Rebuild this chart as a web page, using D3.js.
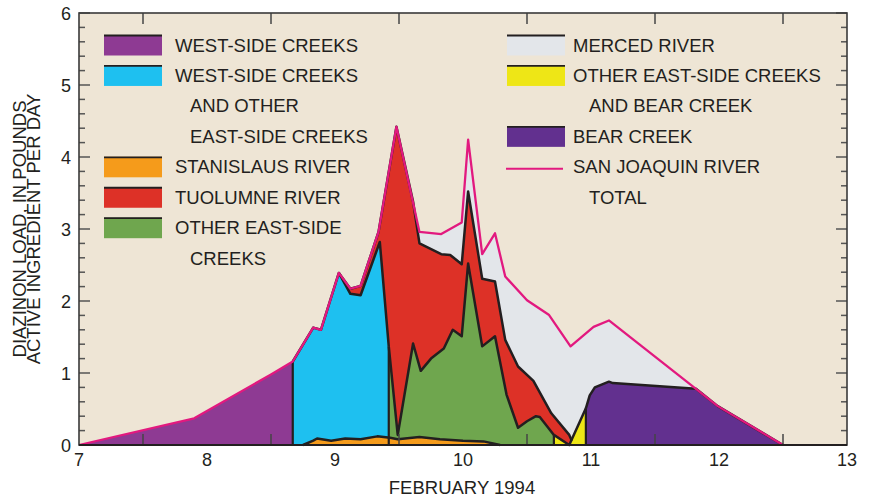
<!DOCTYPE html>
<html>
<head>
<meta charset="utf-8">
<script src="https://cdn.jsdelivr.net/npm/d3@7"></script>
<style>
body { margin: 0; background: #fff; }
text { font-family: "Liberation Sans", Arial, sans-serif; fill: #231f20; }
</style>
</head>
<body>
<div id="chart"></div>
<script>
// values: [day of February 1994, load in pounds per day]
var xTicks = [7, 8, 9, 10, 11, 12, 13];
var yTicks = [0, 1, 2, 3, 4, 5, 6];

var sanJoaquinTotal = [[7.00,0.00],[7.90,0.37],[8.50,0.98],[8.67,1.16],[8.83,1.63],[8.89,1.60],[9.03,2.39],
  [9.12,2.17],[9.20,2.21],[9.34,2.96],[9.48,4.42],[9.66,2.96],[9.83,2.93],[9.99,3.09],[10.04,4.24],[10.15,2.65],
  [10.25,2.94],[10.33,2.34],[10.50,2.01],[10.67,1.81],[10.84,1.37],[11.02,1.64],[11.14,1.73],[11.82,0.78],
  [11.99,0.54],[12.50,0.00]];
var westSideCreeks = [[7.00,0.00],[7.90,0.37],[8.50,0.98],[8.67,1.16]];
var westAndEastCreeks = [[8.67,1.16],[8.83,1.63],[8.89,1.60],[9.03,2.39],[9.12,2.10],[9.20,2.08],[9.35,2.82],[9.42,1.37]];
var otherEastCreeks = [[9.42,1.37],[9.49,0.14],[9.61,1.41],[9.67,1.03],[9.75,1.20],[9.85,1.34],[9.92,1.60],[9.99,1.51],
  [10.04,2.52],[10.15,1.37],[10.25,1.51],[10.34,0.70],[10.43,0.24],[10.50,0.33],[10.57,0.40],[10.60,0.39],[10.71,0.14]];
var tuolumne = [[9.03,2.39],[9.12,2.17],[9.20,2.21],[9.34,2.96],[9.48,4.42],[9.61,3.38],[9.66,2.80],[9.83,2.65],
  [9.90,2.64],[9.99,2.51],[10.04,3.52],[10.15,2.31],[10.25,2.27],[10.33,1.46],[10.43,1.09],[10.55,0.89],[10.69,0.44],
  [10.83,0.14],[10.85,0.06]];
var otherEastAndBear = [[10.71,0.14],[10.83,0.00],[10.96,0.51]];
var bearCreek = [[10.96,0.51],[10.99,0.69],[11.03,0.80],[11.14,0.88],[11.17,0.86],[11.82,0.78],[11.99,0.54],[12.50,0.00]];
var stanislaus = [[8.75,0.00],[8.83,0.06],[8.86,0.09],[8.97,0.06],[9.08,0.09],[9.20,0.08],[9.33,0.12],[9.43,0.10],
  [9.49,0.08],[9.66,0.11],[9.82,0.08],[10.00,0.06],[10.16,0.05],[10.29,0.00]];
var merced = sanJoaquinTotal.filter(function(d) { return d[0] >= 9.48 && d[0] <= 11.82; });

var w = 872, h = 497;
var svg = d3.select('#chart').append('svg')
    .attr('width', w)
    .attr('height', h);

var x = d3.scaleLinear().domain([7, 13]).range([79, 847]);
var y = d3.scaleLinear().domain([0, 6]).range([445, 13]);

svg.append('rect')
    .attr('x', x(7)).attr('y', y(6))
    .attr('width', x(13) - x(7)).attr('height', y(0) - y(6))
    .attr('fill', '#eee5d5');

var area = d3.area()
    .x(function(d) { return x(d[0]); })
    .y0(y(0))
    .y1(function(d) { return y(d[1]); });
var line = d3.line()
    .x(function(d) { return x(d[0]); })
    .y(function(d) { return y(d[1]); });

// painted back to front
var layers = [
  { data: westSideCreeks, fill: '#8e3a93', edge: false },
  { data: merced, fill: '#e3e6ea', edge: false },
  { data: bearCreek, fill: '#62308f', edge: true },
  { data: tuolumne, fill: '#dd3127', edge: true },
  { data: otherEastAndBear, fill: '#eee616', edge: true },
  { data: otherEastCreeks, fill: '#6fa64e', edge: true },
  { data: westAndEastCreeks, fill: '#1ec0f0', edge: true },
  { data: stanislaus, fill: '#f59b1b', edge: true }
];

layers.forEach(function(l) {
  svg.append('path')
      .attr('d', area(l.data))
      .attr('fill', l.fill);
});

layers.forEach(function(l) {
  if (!l.edge) { return; }
  svg.append('path')
      .attr('d', line(l.data))
      .attr('fill', 'none')
      .attr('stroke', '#231f20')
      .attr('stroke-width', 2.5)
      .attr('stroke-linejoin', 'round');
});

// separators where one layer hands over to the next
[westAndEastCreeks, otherEastCreeks, otherEastAndBear, bearCreek].forEach(function(s) {
  svg.append('line')
      .attr('x1', x(s[0][0])).attr('x2', x(s[0][0]))
      .attr('y1', y(0)).attr('y2', y(s[0][1]))
      .attr('stroke', '#231f20')
      .attr('stroke-width', 2.2);
});

svg.append('path')
    .attr('d', line(sanJoaquinTotal))
    .attr('fill', 'none')
    .attr('stroke', '#e2197f')
    .attr('stroke-width', 2.3)
    .attr('stroke-linejoin', 'round');

// ticks
var minor = d3.range(0, 6.01, 0.2);
minor.forEach(function(v) {
  var major = Math.abs(v - Math.round(v)) < 0.01;
  var len = major ? 11 : 6;
  svg.append('line')
      .attr('x1', x(7)).attr('x2', x(7) + len)
      .attr('y1', y(v)).attr('y2', y(v))
      .attr('stroke', '#555').attr('stroke-width', 1.5);
  svg.append('line')
      .attr('x1', x(13)).attr('x2', x(13) - len)
      .attr('y1', y(v)).attr('y2', y(v))
      .attr('stroke', '#555').attr('stroke-width', 1.5);
});
[7.5, 8.5, 9.5, 10.5, 11.5, 12.5].forEach(function(v) {
  svg.append('line')
      .attr('x1', x(v)).attr('x2', x(v))
      .attr('y1', y(0)).attr('y2', y(0) - 11)
      .attr('stroke', '#444').attr('stroke-width', 1.5);
  svg.append('line')
      .attr('x1', x(v)).attr('x2', x(v))
      .attr('y1', y(6)).attr('y2', y(6) + 11)
      .attr('stroke', '#444').attr('stroke-width', 1.5);
});

svg.append('rect')
    .attr('x', x(7)).attr('y', y(6))
    .attr('width', x(13) - x(7)).attr('height', y(0) - y(6))
    .attr('fill', 'none')
    .attr('stroke', '#3a3a3a')
    .attr('stroke-width', 1.6);
svg.append('line')
    .attr('x1', x(7)).attr('x2', x(13))
    .attr('y1', y(0)).attr('y2', y(0))
    .attr('stroke', '#231f20').attr('stroke-width', 2.2);

svg.selectAll('.ylab')
    .data(yTicks)
    .enter()
    .append('text')
    .attr('x', 71)
    .attr('y', function(d) { return y(d) + 6.5; })
    .attr('text-anchor', 'end')
    .style('font-size', '18px')
    .text(function(d) { return d; });

svg.selectAll('.xlab')
    .data(xTicks)
    .enter()
    .append('text')
    .attr('x', function(d) { return x(d); })
    .attr('y', 466)
    .attr('text-anchor', 'middle')
    .style('font-size', '18px')
    .text(function(d) { return d; });

svg.append('text')
    .attr('x', 462).attr('y', 494)
    .attr('text-anchor', 'middle')
    .style('font-size', '18.5px')
    .text('FEBRUARY 1994');

var ytitle = svg.append('text')
    .attr('transform', 'translate(0,229) rotate(-90)')
    .attr('text-anchor', 'middle')
    .style('font-size', '18.5px');
ytitle.append('tspan').attr('x', 0).attr('y', 25.5).text('DIAZINON LOAD, IN POUNDS');
ytitle.append('tspan').attr('x', 0).attr('y', 39.5).text('ACTIVE INGREDIENT PER DAY');

// legend
var legendRows = [
  { col: 0, row: 0, fill: '#8e3a93', text: 'WEST-SIDE CREEKS' },
  { col: 0, row: 1, fill: '#1ec0f0', text: 'WEST-SIDE CREEKS' },
  { col: 0, row: 2, fill: null, text: 'AND OTHER' },
  { col: 0, row: 3, fill: null, text: 'EAST-SIDE CREEKS' },
  { col: 0, row: 4, fill: '#f59b1b', text: 'STANISLAUS RIVER' },
  { col: 0, row: 5, fill: '#dd3127', text: 'TUOLUMNE RIVER' },
  { col: 0, row: 6, fill: '#6fa64e', text: 'OTHER EAST-SIDE' },
  { col: 0, row: 7, fill: null, text: 'CREEKS' },
  { col: 1, row: 0, fill: '#e3e6ea', text: 'MERCED RIVER' },
  { col: 1, row: 1, fill: '#eee616', text: 'OTHER EAST-SIDE CREEKS' },
  { col: 1, row: 2, fill: null, text: 'AND BEAR CREEK' },
  { col: 1, row: 3, fill: '#62308f', text: 'BEAR CREEK' },
  { col: 1, row: 4, fill: 'line', text: 'SAN JOAQUIN RIVER' },
  { col: 1, row: 5, fill: null, text: 'TOTAL' }
];
var colX = [104, 507];
var textX = [175, 573];
var indentX = [190, 589];

legendRows.forEach(function(d) {
  var cy = 45 + d.row * 30.45;
  var sx = colX[d.col];
  if (d.fill === 'line') {
    svg.append('line')
        .attr('x1', sx - 1).attr('x2', sx + 56)
        .attr('y1', cy + 2).attr('y2', cy + 2)
        .attr('stroke', '#e2197f').attr('stroke-width', 2);
  } else if (d.fill) {
    svg.append('rect')
        .attr('x', sx).attr('y', cy - 10)
        .attr('width', 58).attr('height', 20.5)
        .attr('fill', d.fill);
    svg.append('line')
        .attr('x1', sx).attr('x2', sx + 58)
        .attr('y1', cy - 9.5).attr('y2', cy - 9.5)
        .attr('stroke', '#231f20').attr('stroke-width', 1.8);
  }
  svg.append('text')
      .attr('x', d.fill ? textX[d.col] : indentX[d.col])
      .attr('y', cy + 6.5)
      .style('font-size', '18.5px')
      .text(d.text);
});
</script>
</body>
</html>
